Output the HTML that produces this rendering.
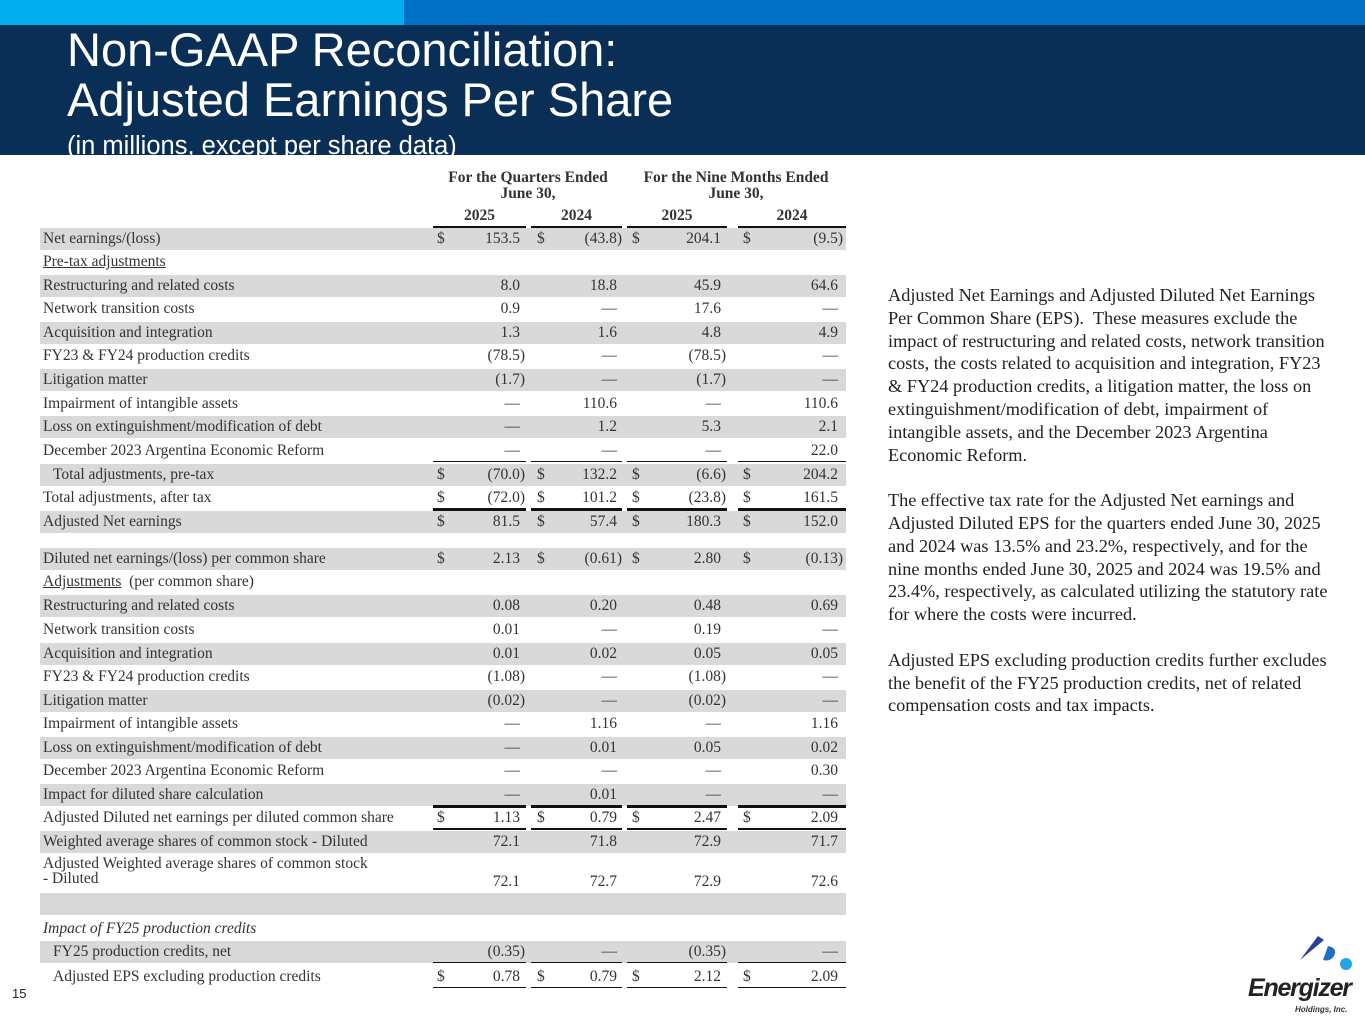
<!DOCTYPE html>
<html><head><meta charset="utf-8"><style>
html,body{margin:0;padding:0}
body{width:1365px;height:1024px;position:relative;overflow:hidden;background:#fff;font-family:"Liberation Sans",sans-serif}
.abs{position:absolute}
#tbl{position:absolute;left:0;top:0;width:1365px;height:1024px;font-family:"Liberation Serif",serif;font-size:15.5px;color:#333}
.row{position:absolute;left:40px;width:806px}
.lbl{position:absolute;left:3px;white-space:nowrap}
.v{position:absolute;white-space:nowrap;text-align:right}
.d{position:absolute;white-space:nowrap}
.ln{position:absolute;background:#111;height:2px}
.hd{position:absolute;font-weight:bold;text-align:center;white-space:nowrap;font-size:15.5px;line-height:16px}
#note{position:absolute;left:888px;top:284px;font-family:"Liberation Serif",serif;font-size:18.3px;line-height:22.8px;color:#222;white-space:nowrap}
</style></head><body>
<div class="abs" style="left:0;top:0;width:404px;height:25px;background:#00aeef"></div>
<div class="abs" style="left:404px;top:0;width:961px;height:25px;background:#0071c5"></div>
<div class="abs" style="left:0;top:25px;width:1365px;height:130px;background:#0a2f56;overflow:hidden">
  <div class="abs" style="left:67px;top:0px;color:#fff;font-size:47px;line-height:50px">Non-GAAP Reconciliation:<br>Adjusted Earnings Per Share</div>
  <div class="abs" style="left:67px;top:106px;color:#fff;font-size:25.5px;line-height:30px">(in millions, except per share data)</div>
</div>
<div id="tbl">
  <div class="hd" style="left:430px;top:170px;width:196px">For the Quarters Ended<br>June 30,</div>
  <div class="hd" style="left:630px;top:170px;width:212px">For the Nine Months Ended<br>June 30,</div>
  <div class="hd" style="left:433px;top:208px;width:93px">2025</div>
  <div class="hd" style="left:531px;top:208px;width:91px">2024</div>
  <div class="hd" style="left:627px;top:208px;width:100px">2025</div>
  <div class="hd" style="left:738px;top:208px;width:108px">2024</div>
  <div class="ln" style="left:433px;top:226px;width:93px"></div>
  <div class="ln" style="left:531px;top:226px;width:91px"></div>
  <div class="ln" style="left:627px;top:226px;width:100px"></div>
  <div class="ln" style="left:738px;top:226px;width:108px"></div>
</div>
<div id="note">Adjusted Net Earnings and Adjusted Diluted Net Earnings<br>Per Common Share (EPS).&nbsp; These measures exclude the<br>impact of restructuring and related costs, network transition<br>costs, the costs related to acquisition and integration, FY23<br>&amp; FY24 production credits, a litigation matter, the loss on<br>extinguishment/modification of debt, impairment of<br>intangible assets, and the December 2023 Argentina<br>Economic Reform.<br><br>The effective tax rate for the Adjusted Net earnings and<br>Adjusted Diluted EPS for the quarters ended June 30, 2025<br>and 2024 was 13.5% and 23.2%, respectively, and for the<br>nine months ended June 30, 2025 and 2024 was 19.5% and<br>23.4%, respectively, as calculated utilizing the statutory rate<br>for where the costs were incurred.<br><br>Adjusted EPS excluding production credits further excludes<br>the benefit of the FY25 production credits, net of related<br>compensation costs and tax impacts.</div>
<div class="abs" style="left:12px;top:986px;font-size:13px;color:#222">15</div>
<svg class="abs" style="left:1240px;top:930px" width="125" height="90" viewBox="0 0 125 90">
  <path d="M60 30 L78 6 L84 10 Z" fill="#2a3f9a"/>
  <path d="M83 30 L88 16 Q98 18 94 26 Q90 32 83 30 Z" fill="#1f6fc4"/>
  <circle cx="106" cy="34" r="6" fill="#1ea7e6"/>
  <text x="8" y="66" font-family="Liberation Sans,sans-serif" font-weight="bold" font-style="italic" font-size="25" fill="#222" textLength="104">Energizer</text>
  <text x="55" y="82" font-family="Liberation Sans,sans-serif" font-style="italic" font-weight="bold" font-size="8" fill="#333">Holdings, Inc.</text>
</svg>
<script>
var labels=["Net earnings/(loss)","Pre-tax adjustments","Restructuring and related costs","Network transition costs","Acquisition and integration","FY23 & FY24 production credits","Litigation matter","Impairment of intangible assets","Loss on extinguishment/modification of debt","December 2023 Argentina Economic Reform","Total adjustments, pre-tax","Total adjustments, after tax","Adjusted Net earnings","Diluted net earnings/(loss) per common share","Adjustments","Restructuring and related costs","Network transition costs","Acquisition and integration","FY23 & FY24 production credits","Litigation matter","Impairment of intangible assets","Loss on extinguishment/modification of debt","December 2023 Argentina Economic Reform","Impact for diluted share calculation","Adjusted Diluted net earnings per diluted common share","Weighted average shares of common stock - Diluted","Adjusted Weighted average shares of common stock<br>- Diluted","","Impact of FY25 production credits","FY25 production credits, net","Adjusted EPS excluding production credits"];
var q2025=["153.5","","8.0","0.9","1.3","(78.5)","(1.7)","—","—","—","(70.0)","(72.0)","81.5","2.13","","0.08","0.01","0.01","(1.08)","(0.02)","—","—","—","—","1.13","72.1","72.1","","","(0.35)","0.78"];
var q2024=["(43.8)","","18.8","—","1.6","—","—","110.6","1.2","—","132.2","101.2","57.4","(0.61)","","0.20","—","0.02","—","—","1.16","0.01","—","0.01","0.79","71.8","72.7","","","—","0.79"];
var n2025=["204.1","","45.9","17.6","4.8","(78.5)","(1.7)","—","5.3","—","(6.6)","(23.8)","180.3","2.80","","0.48","0.19","0.05","(1.08)","(0.02)","—","0.05","—","—","2.47","72.9","72.9","","","(0.35)","2.12"];
var n2024=["(9.5)","","64.6","—","4.9","—","—","110.6","2.1","22.0","204.2","161.5","152.0","(0.13)","","0.69","—","0.05","—","—","1.16","0.02","0.30","—","2.09","71.7","72.6","","","—","2.09"];
var tops=[228,251,275,298,322,345,369,393,416,440,464,487,511,548,571,595,619,643,666,690,713,737,760,784,807,831,854,893,918,941,966];
var heights=[22,22,22,22,22,22,22,22,22,22,22,22,22,22,22,22,22,22,22,22,22,22,22,22,22,22,38,22,22,22,22];
var shaded=[1,0,1,0,1,0,1,0,1,0,1,0,1,1,0,1,0,1,0,1,0,1,0,1,0,1,0,1,0,1,0];
var dollar=[1,0,0,0,0,0,0,0,0,0,1,1,1,1,0,0,0,0,0,0,0,0,0,0,1,0,0,0,0,0,1];
var indent=[0,0,0,0,0,0,0,0,0,0,10,0,0,0,0,0,0,0,0,0,0,0,0,0,0,0,0,0,0,10,10];
var ruleAfter=[0,0,0,0,0,0,0,0,0,1,0,2,0,0,0,0,0,0,0,0,0,0,0,1,3,0,0,0,0,1,1];
var dX=[437,537,632,743], rX=[520,617,721,838];
var colL=[433,531,627,738], colW=[93,91,100,108];
var tbl=document.getElementById('tbl');
var cols=[q2025,q2024,n2025,n2024];
for(var i=0;i<labels.length;i++){
  var r=document.createElement('div');
  r.className='row';
  
  
  r.style.top=tops[i]+'px';r.style.height=heights[i]+'px';
  if(shaded[i]) r.style.background='#d9d9d9';
  tbl.appendChild(r);
  var l=document.createElement('div');
  l.className='lbl';
  
  
  l.textContent=labels[i];
  if(labels[i].indexOf('<br>')>=0){l.innerHTML=labels[i];l.style.lineHeight='15px';}
  l.style.top='2px';
  l.style.left=(3+indent[i])+'px';
  if(i==1){l.style.textDecoration='underline';}
  if(i==14){l.innerHTML='<u>Adjustments</u>&nbsp; (per common share)';}
  if(i==28){l.style.fontStyle='italic';}
  r.appendChild(l);
  var vy=tops[i]+(heights[i]>30?19:2);
  for(var c=0;c<4;c++){
    var t=cols[c][i];
    if(t!==''){
      var v=document.createElement('div');
      v.className='v';
      
      
      v.textContent=t;
      var right=rX[c]+(t.charAt(t.length-1)==')'?5:0);
      v.style.right=(1365-right)+'px';v.style.top=vy+'px';
      tbl.appendChild(v);
    }
    if(dollar[i]){
      var d=document.createElement('div');
      d.className='d';
      
      
      d.textContent='$';d.style.left=dX[c]+'px';d.style.top=vy+'px';
      tbl.appendChild(d);
    }
    if(ruleAfter[i]){
      var y=tops[i]+heights[i]-1;
      var ln=document.createElement('div');
      ln.className='ln';
      
      
      ln.style.left=colL[c]+'px';ln.style.width=colW[c]+'px';ln.style.top=y+'px';
      ln.style.height=(ruleAfter[i]==2?3:1)+'px';
      tbl.appendChild(ln);
      if(ruleAfter[i]==3){
        ln.style.height='2px';
        var ln2=document.createElement('div');
        ln2.className='ln';
        
        
        ln2.style.left=colL[c]+'px';ln2.style.width=colW[c]+'px';ln2.style.top=(y+4)+'px';ln2.style.height='2px';
        tbl.appendChild(ln2);
        var ln0=document.createElement('div');
        ln0.className='ln';
        
        
        ln0.style.left=colL[c]+'px';ln0.style.width=colW[c]+'px';ln0.style.top=(tops[i]-1)+'px';ln0.style.height='2px';
        tbl.appendChild(ln0);
      }
    }
  }
}
</script>
</body></html>
